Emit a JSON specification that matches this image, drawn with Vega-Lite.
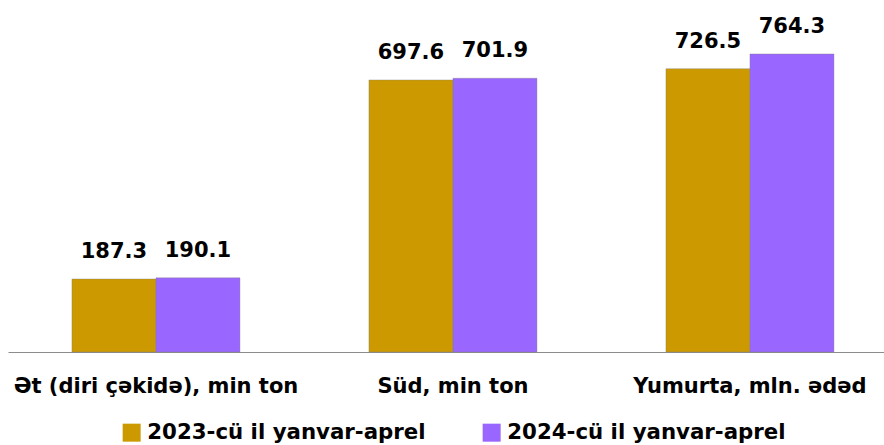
{
  "$schema": "https://vega.github.io/schema/vega-lite/v6.json",
  "width": 876,
  "height": 351,
  "autosize": {"type": "none"},
  "padding": {"left": 8, "top": 1, "right": 0, "bottom": 93},
  "background": "white",
  "config": {"view": {"stroke": null}},
  "data": {
    "values": [
      {"category": "Ət (diri çəkidə), min ton", "period": "2023-cü il yanvar-aprel", "value": 187.3},
      {"category": "Ət (diri çəkidə), min ton", "period": "2024-cü il yanvar-aprel", "value": 190.1},
      {"category": "Süd, min ton", "period": "2023-cü il yanvar-aprel", "value": 697.6},
      {"category": "Süd, min ton", "period": "2024-cü il yanvar-aprel", "value": 701.9},
      {"category": "Yumurta, mln. ədəd", "period": "2023-cü il yanvar-aprel", "value": 726.5},
      {"category": "Yumurta, mln. ədəd", "period": "2024-cü il yanvar-aprel", "value": 764.3}
    ]
  },
  "encoding": {
    "x": {
      "field": "category",
      "type": "nominal",
      "sort": null,
      "scale": {"paddingInner": 0.4343, "paddingOuter": 0.1919, "align": 0.561},
      "axis": {
        "title": null,
        "labelAngle": 0,
        "ticks": false,
        "domainColor": "#8c8c8c",
        "domainWidth": 1.2,
        "labelFont": "DejaVu Sans",
        "labelFontWeight": "bold",
        "labelFontSize": 21,
        "labelColor": "#000000",
        "labelPadding": 23,
        "labelLimit": 400
      }
    },
    "xOffset": {"field": "period", "type": "nominal", "sort": null},
    "y": {
      "field": "value",
      "type": "quantitative",
      "scale": {"domain": [0, 900]},
      "axis": null
    }
  },
  "layer": [
    {
      "mark": {"type": "bar", "stroke": "#7f7f7f", "strokeWidth": 0.6, "strokeOpacity": 0.6},
      "encoding": {
        "color": {
          "field": "period",
          "type": "nominal",
          "sort": null,
          "scale": {"range": ["#CC9A00", "#9966FF"]},
          "legend": {
            "title": null,
            "orient": "none",
            "legendX": 113,
            "legendY": 421,
            "direction": "horizontal",
            "columns": 2,
            "symbolType": "square",
            "symbolSize": 324,
            "symbolStrokeWidth": 0,
            "labelFont": "DejaVu Sans",
            "labelFontWeight": "bold",
            "labelFontSize": 21.3,
            "labelColor": "#000000",
            "labelOffset": 5,
            "labelLimit": 500,
            "columnPadding": 55
          }
        }
      }
    },
    {
      "mark": {
        "type": "text",
        "baseline": "alphabetic",
        "dy": -21,
        "font": "DejaVu Sans",
        "fontWeight": "bold",
        "fontSize": 21,
        "color": "#000000"
      },
      "encoding": {
        "text": {"field": "value", "type": "quantitative", "format": ".1f"}
      }
    }
  ]
}
